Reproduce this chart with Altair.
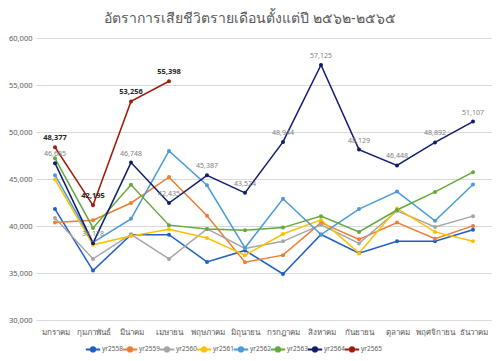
import altair as alt
import pandas as pd

months = ["มกราคม", "กุมภาพันธ์", "มีนาคม", "เมษายน", "พฤษภาคม", "มิถุนายน",
          "กรกฎาคม", "สิงหาคม", "กันยายน", "ตุลาคม", "พฤศจิกายน", "ธันวาคม"]

yr2558 = [41800, 35260, 39080, 39080, 36180, 37400, 34900, 39100, 37100, 38370, 38370, 39600]
yr2559 = [40360, 40620, 42450, 45200, 41100, 36150, 36900, 40360, 38580, 40360, 38650, 40010]
yr2560 = [40840, 36500, 39120, 36500, 39690, 37620, 38370, 40120, 38150, 41620, 39900, 41050]
yr2561 = [44950, 38000, 38940, 39660, 38720, 36900, 39150, 40650, 37110, 41870, 39370, 38370]
yr2562 = [45400, 38250, 40760, 47980, 44330, 37680, 42900, 39080, 41800, 43660, 40550, 44410]
yr2563 = [47200, 39800, 44380, 40090, 39690, 39550, 39830, 41050, 39370, 41700, 43630, 45730]
yr2564 = [46685, 38178, 46748, 42435, 45387, 43524, 48944, 57125, 48129, 46448, 48892, 51107]
yr2565 = [48377, 42195, 53256, 55398]

series_names = ["yr2558", "yr2559", "yr2560", "yr2561", "yr2562", "yr2563", "yr2564", "yr2565"]
series_vals = [yr2558, yr2559, yr2560, yr2561, yr2562, yr2563, yr2564, yr2565]
colors = ["#1f5fc4", "#ed7d31", "#a5a5a5", "#ffc000", "#4a9ad8", "#62a93a", "#111d6d", "#9c1d0b"]
y_ticks = [30000, 35000, 40000, 45000, 50000, 55000, 60000]

rows = []
for name, vals in zip(series_names, series_vals):
    for i, v in enumerate(vals):
        rows.append({"month": months[i], "series": name, "value": v,
                     "order": series_names.index(name)})
df = pd.DataFrame(rows)

FONT = "Noto Sans"
GRAY = "#595959"

x = alt.X("month:N", sort=months, title=None,
          scale=alt.Scale(type="point", padding=0.5),
          axis=alt.Axis(labelAngle=0, labelFontSize=8, labelColor=GRAY, labelFont=FONT,
                        ticks=False, domain=False, grid=False, labelPadding=8))
y = alt.Y("value:Q", title=None,
          scale=alt.Scale(domain=[30000, 60000], nice=False, zero=False),
          axis=alt.Axis(values=y_ticks, format=",.0f", labelFontSize=7.5, labelColor=GRAY,
                        labelFont=FONT, ticks=False, domain=False, gridColor="#d9d9d9",
                        gridWidth=1, labelPadding=4))

legend_symbol = "M-1.2,0L-0.35,0M0.35,0L1.2,0M-0.35,0A0.35,0.35 0 1,0 0.35,0A0.35,0.35 0 1,0 -0.35,0Z"

color = alt.Color("series:N", sort=series_names,
                  scale=alt.Scale(domain=series_names, range=colors),
                  legend=alt.Legend(orient="none", legendX=50, legendY=304,
                                    direction="horizontal", title=None,
                                    labelFontSize=6.5, labelColor=GRAY, labelFont=FONT,
                                    symbolType=legend_symbol, symbolSize=144,
                                    symbolStrokeWidth=2, columnPadding=-5,
                                    symbolOffset=0, labelOffset=2))

lines = alt.Chart(df).mark_line(strokeWidth=1.5, point=alt.OverlayMarkDef(filled=True, size=16)).encode(
    x=x, y=y, color=color, order=alt.Order("order:Q")
)

lab64 = alt.Chart(df[df.series == "yr2564"]).mark_text(
    dy=-9, fontSize=7, color="#808080", font=FONT
).encode(x=x, y=y, text=alt.Text("value:Q", format=",.0f"))

lab65 = alt.Chart(df[df.series == "yr2565"]).mark_text(
    dy=-9, fontSize=7.5, color="#262626", fontWeight="bold", font=FONT
).encode(x=x, y=y, text=alt.Text("value:Q", format=",.0f"))

chart = alt.layer(lines, lab64, lab65).properties(
    width=456, height=282,
    padding={"left": 28, "top": 30, "right": 0, "bottom": 33},
    autosize=alt.AutoSizeParams(type="none"),
    title=alt.TitleParams("อัตราการเสียชีวิตรายเดือนตั้งแต่ปี ๒๕๖๒-๒๕๖๕", fontSize=14,
                          fontWeight="normal", color=GRAY, font=FONT, offset=8, dx=-14,
                          anchor="middle"),
    background="white"
).configure_view(stroke=None)

chart.save("out.html", embed_options={"renderer": "svg", "actions": False})
